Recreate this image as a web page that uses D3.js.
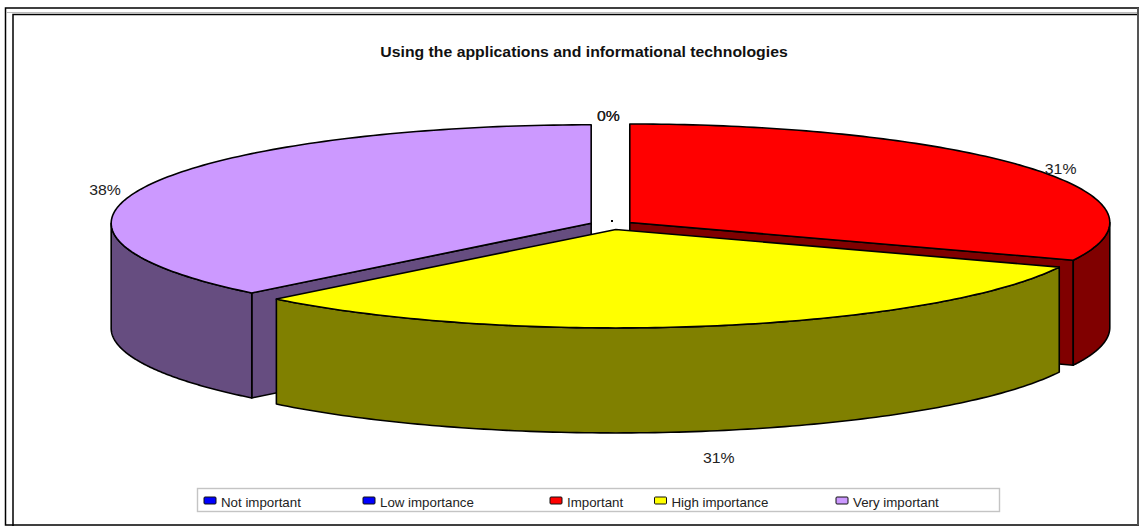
<!DOCTYPE html>
<html><head><meta charset="utf-8">
<script src="https://cdn.jsdelivr.net/npm/d3@7"></script>
<style>
html,body{margin:0;padding:0;background:#fff;overflow:hidden}
svg{display:block;font-family:"Liberation Sans",Arial,sans-serif}
</style></head><body>
<svg id="c" width="1139" height="526"></svg>
<script>
const titleText = "Using the applications and informational technologies";
const categories = ["Not important","Low importance","Important","High importance","Very important"];
const shares = [0,0,31.25,31.25,37.5];
const percentLabels = ["0%","0%","31%","31%","38%"];
const colors = ["#0000ff","#0000ff","#ff0000","#ffff00","#cc99ff"];

const svg = d3.select("#c");
const cx=611.5, cy=225, rx=480, ry=98.5, depth=105, explode=22, stretch=1.13;
const paintOrder=[4,2,3];
const sx=d3.scaleLinear().domain([-1,1]).range([-rx,rx]);
const sy=d3.scaleLinear().domain([-1,1]).range([-ry,ry]);
const arcs=d3.pie().sort(null).value(d=>d)(shares);
const line=d3.line();
const shade=c=>{const k=d3.rgb(c);return d3.rgb(k.r*.5,k.g*.5,k.b*.5).formatHex()};
const wideText=(g,x,y,size,t,anchor,k=stretch)=>g.append("text")
  .attr("transform",`translate(${x},${y}) scale(${k},1)`)
  .attr("text-anchor",anchor).attr("font-size",size).text(t);

// frames
const frame=svg.append("g").attr("fill","none");
frame.append("rect").attr("x",5.5).attr("y",8).attr("width",1140).attr("height",517).attr("stroke","#000").attr("stroke-width",1.5);
frame.append("rect").attr("x",13).attr("y",14.5).attr("width",1140).attr("height",520).attr("stroke","#000").attr("stroke-width",1.5);
frame.append("line").attr("x1",6).attr("x2",1138).attr("y1",12.5).attr("y2",12.5).attr("stroke","#bbb").attr("stroke-width",1);
frame.append("line").attr("x1",1138).attr("x2",1138).attr("y1",8).attr("y2",525).attr("stroke","#555").attr("stroke-width",2);

wideText(svg,584,56.5,14,titleText,"middle").attr("font-weight","bold").attr("fill","#111");

const pt=(c,a)=>[c[0]+sx(Math.sin(a)),c[1]-sy(Math.cos(a))];
const centerOf=d=>{const m=(d.startAngle+d.endAngle)/2;return [cx+explode*Math.sin(m),cy-explode*(ry/rx)*Math.cos(m)]};
const sample=(a0,a1)=>d3.range(0,121).map(i=>a0+(a1-a0)*i/120);
const pie=svg.append("g").attr("stroke","#000").attr("stroke-width",1.6).attr("stroke-linejoin","round");

function drawSlice(i){
  const d=arcs[i], c=centerOf(d), a0=d.startAngle, a1=d.endAngle;
  const top=colors[i], side=shade(colors[i]);
  const quad=a=>{const p=pt(c,a);return [c,p,[p[0],p[1]+depth],[c[0],c[1]+depth]]};
  if(Math.sin(a0)<-1e-6) pie.append("path").attr("fill",side).attr("d",line(quad(a0))+"Z");
  if(Math.sin(a1)>1e-6) pie.append("path").attr("fill",side).attr("d",line(quad(a1))+"Z");
  const w0=Math.max(a0,Math.PI/2), w1=Math.min(a1,3*Math.PI/2);
  if(w1>w0){
    const up=sample(w0,w1).map(a=>pt(c,a));
    const dn=up.map(p=>[p[0],p[1]+depth]).reverse();
    pie.append("path").attr("fill",side).attr("d",line(up.concat(dn))+"Z");
  }
  pie.append("path").attr("fill",top).attr("d",line([c].concat(sample(a0,a1).map(a=>pt(c,a))))+"Z");
}
paintOrder.forEach(drawSlice);

// zero-size slices leave only a speck
arcs.filter(d=>d.value===0).forEach(()=>{
  svg.append("rect").attr("x",611).attr("y",220).attr("width",2).attr("height",2).attr("fill","#000");
});

// percent labels
const labelNudge=[[-3,-4],[-3,-4],[-4,2],[1,0],[-3,5]];
arcs.forEach((d,i)=>{
  const m=(d.startAngle+d.endAngle)/2, cs=Math.cos(m);
  const x=cx+545*Math.sin(m)+labelNudge[i][0];
  const y=cy-cs*(cs>=0?105:238)+labelNudge[i][1]+5;
  wideText(svg,x,y,14,percentLabels[i],"middle").attr("fill","#222");
});

// legend
const lg=svg.append("g");
lg.append("rect").attr("x",197.5).attr("y",488.5).attr("width",802).attr("height",23)
  .attr("fill","#fff").attr("stroke","#c4c4c4").attr("stroke-width",1.4);
const legendX=[204,363,550,654.5,836];
categories.forEach((t,i)=>{
  lg.append("rect").attr("x",legendX[i]).attr("y",497).attr("width",12).attr("height",7).attr("rx",1)
    .attr("fill",colors[i]).attr("stroke","#111").attr("stroke-width",1);
  wideText(lg,legendX[i]+17,507,12,t,"start",1.11).attr("fill","#222");
});
</script>
</body></html>
